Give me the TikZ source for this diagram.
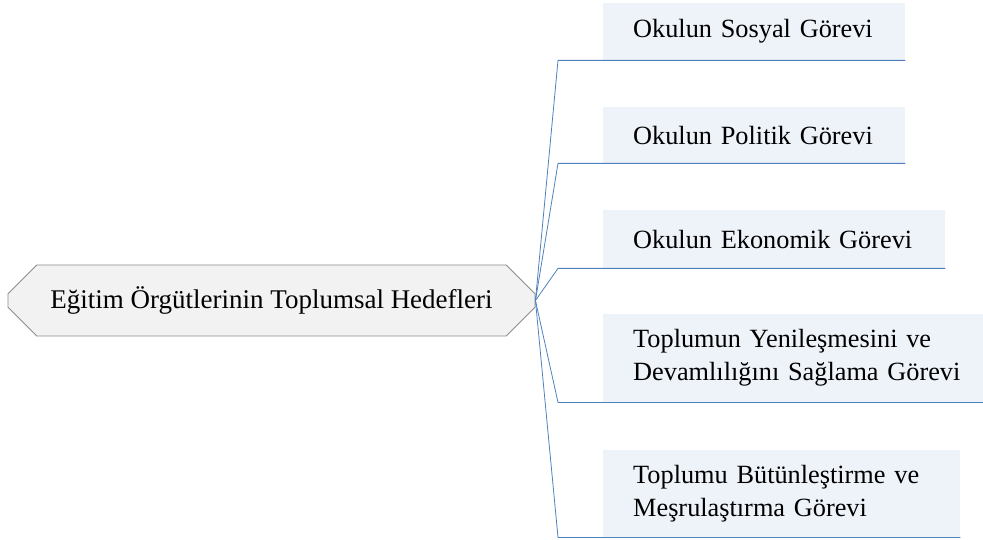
\documentclass[tikz,border=0pt]{standalone}
\usepackage{fontspec}
\setmainfont{Liberation Serif}
\usetikzlibrary{shapes.misc,backgrounds}
\definecolor{childfill}{HTML}{EEF2F9}
\definecolor{linkblue}{HTML}{4F81BD}
\definecolor{rootfill}{HTML}{F2F2F2}
\definecolor{rootline}{HTML}{8C8C8C}
\tikzset{
  rootbox/.style={chamfered rectangle, chamfered rectangle xsep=18pt, chamfered rectangle ysep=15pt,
    draw=rootline, fill=rootfill, line width=0.9pt, minimum width=527pt, minimum height=71pt,
    inner sep=0pt, font=\fontsize{27}{32}\selectfont},
  childbox/.style={rectangle, draw=none, anchor=north west, inner xsep=0pt, inner ysep=0pt,
    align=left, font=\fontsize{26.3}{33}\selectfont},
  link/.style={draw=linkblue, line width=0.8pt},
}
\begin{document}
\begin{tikzpicture}[x=1pt,y=-1pt]
\useasboundingbox (0,0) rectangle (983,540);
\node[rootbox] (root) at (271.5,300.5) {Eğitim Örgütlerinin Toplumsal Hedefleri};
\node[childbox, text width=272pt, minimum height=57pt] (c1) at (633,3) {Okulun Sosyal Görevi};
\node[childbox, text width=272pt, minimum height=56pt] (c2) at (633,107) {Okulun Politik Görevi};
\node[childbox, text width=312pt, minimum height=58pt] (c3) at (633,210) {Okulun Ekonomik Görevi};
\node[childbox, text width=350pt, minimum height=88pt] (c4) at (633,314) {Toplumun Yenileşmesini ve\\Devamlılığını Sağlama Görevi};
\node[childbox, text width=327pt, minimum height=87pt] (c5) at (633,450) {Toplumu Bütünleştirme ve\\Meşrulaştırma Görevi};
\begin{scope}[on background layer]
\foreach \c in {c1,c2,c3,c4,c5}{
  \fill[childfill] ([xshift=-30pt]\c.north west) rectangle (\c.south east);
}
\end{scope}
\foreach \c in {c1,c2,c3,c4,c5}{
  \draw[link] (root.east) -- ([xshift=-75pt]\c.south west) -- (\c.south east);
}
\end{tikzpicture}
\end{document}
